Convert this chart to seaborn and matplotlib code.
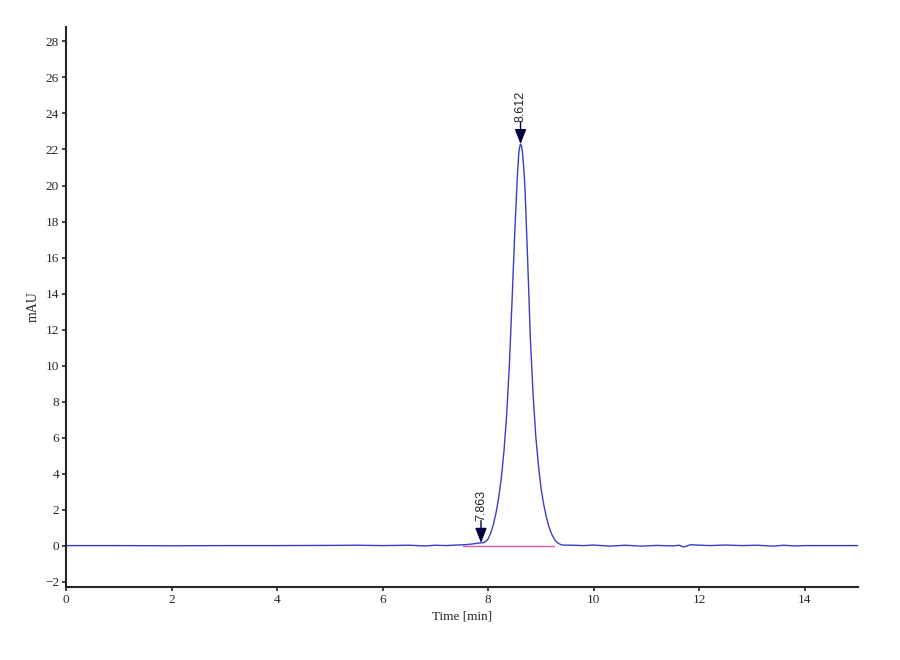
import pandas as pd
import seaborn as sns
import matplotlib.pyplot as plt

# Chromatogram trace (time in min, signal in mAU)
time_min = [0.0, 1.0, 2.0, 3.0, 4.0, 5.0, 5.5, 6.0, 6.5, 6.8, 7.0, 7.2, 7.4, 7.5,
            7.6, 7.7, 7.8, 7.863, 7.92, 7.96, 8.0, 8.05, 8.10, 8.15, 8.20, 8.25, 8.30,
            8.35, 8.40, 8.45, 8.50, 8.55, 8.58, 8.60, 8.612, 8.63, 8.65, 8.68, 8.70,
            8.75, 8.80, 8.85, 8.90, 8.95, 9.00, 9.05, 9.10, 9.15, 9.20, 9.25, 9.30,
            9.35, 9.40, 9.6, 9.8, 10.0, 10.3, 10.6, 10.9, 11.2, 11.5, 11.62, 11.70,
            11.76, 11.84, 11.95, 12.2, 12.5, 12.8, 13.1, 13.4, 13.6, 13.8, 14.0,
            14.5, 15.0]
signal_mau = [0.0, 0.0, -0.01, 0.0, 0.0, 0.01, 0.02, 0.0, 0.02, -0.02, 0.02, 0.0, 0.03, 0.04,
              0.06, 0.09, 0.13, 0.15, 0.17, 0.24, 0.38, 0.72, 1.2, 1.85, 2.7, 3.8, 5.3,
              7.3, 10.0, 13.5, 17.2, 20.4, 21.85, 22.2, 22.3, 22.2, 21.8, 20.7, 19.6,
              15.6, 11.4, 8.4, 6.1, 4.5, 3.2, 2.3, 1.6, 1.05, 0.65, 0.37, 0.19,
              0.09, 0.03, 0.02, 0.0, 0.03, -0.03, 0.02, -0.03, 0.01, -0.02, 0.02, -0.08,
              -0.02, 0.05, 0.03, 0.0, 0.03, 0.0, 0.02, -0.03, 0.02, -0.02, 0.0,
              0.0, 0.0]

# Integration baseline
base_time = [7.52, 9.25]
base_signal = [0.0, 0.0]

# Peak labels
peak_times = [7.863, 8.612]
peak_heights = [0.15, 22.3]
peak_labels = ['7.863', '8.612']

df = pd.DataFrame({'Time': time_min, 'mAU': signal_mau})

sns.set_style('ticks')
plt.rcParams['font.family'] = ['Liberation Serif', 'DejaVu Serif']

fig = plt.figure(figsize=(9, 6.6), dpi=100)
ax = fig.add_axes([0.0733, 0.1106, 0.8797, 0.8484])

sns.lineplot(x=base_time, y=base_signal, color='#e05aa8', linewidth=1.0, ax=ax)
sns.lineplot(data=df, x='Time', y='mAU', color='#3a3ec4', linewidth=1.0, ax=ax)

for t, h, lab in zip(peak_times, peak_heights, peak_labels):
    ax.annotate('', xy=(t, h), xytext=(0, 16), textcoords='offset points',
                arrowprops=dict(arrowstyle='-|>,head_length=0.9,head_width=0.35',
                                color='#000040', lw=1.0, shrinkA=0, shrinkB=0))
    ax.annotate(lab, xy=(t, h), xytext=(0, 16), textcoords='offset points',
                rotation=90, ha='center', va='bottom', fontsize=9,
                family=['Liberation Sans', 'DejaVu Sans'])

ax.set_xlim(0, 15)
ax.set_ylim(-2.3, 28.8)
ax.set_xticks(range(0, 15, 2))
ax.set_yticks(range(-2, 29, 2))
ax.tick_params(axis='both', labelsize=9.5, length=3, width=1.2, pad=2)
for side in ['top', 'right']:
    ax.spines[side].set_visible(False)
for side in ['left', 'bottom']:
    ax.spines[side].set_linewidth(1.5)
ax.set_xlabel('Time [min]', fontsize=9.5, labelpad=3)
ax.set_ylabel('mAU', fontsize=10, labelpad=4)

fig.savefig('out.png', dpi=100)
